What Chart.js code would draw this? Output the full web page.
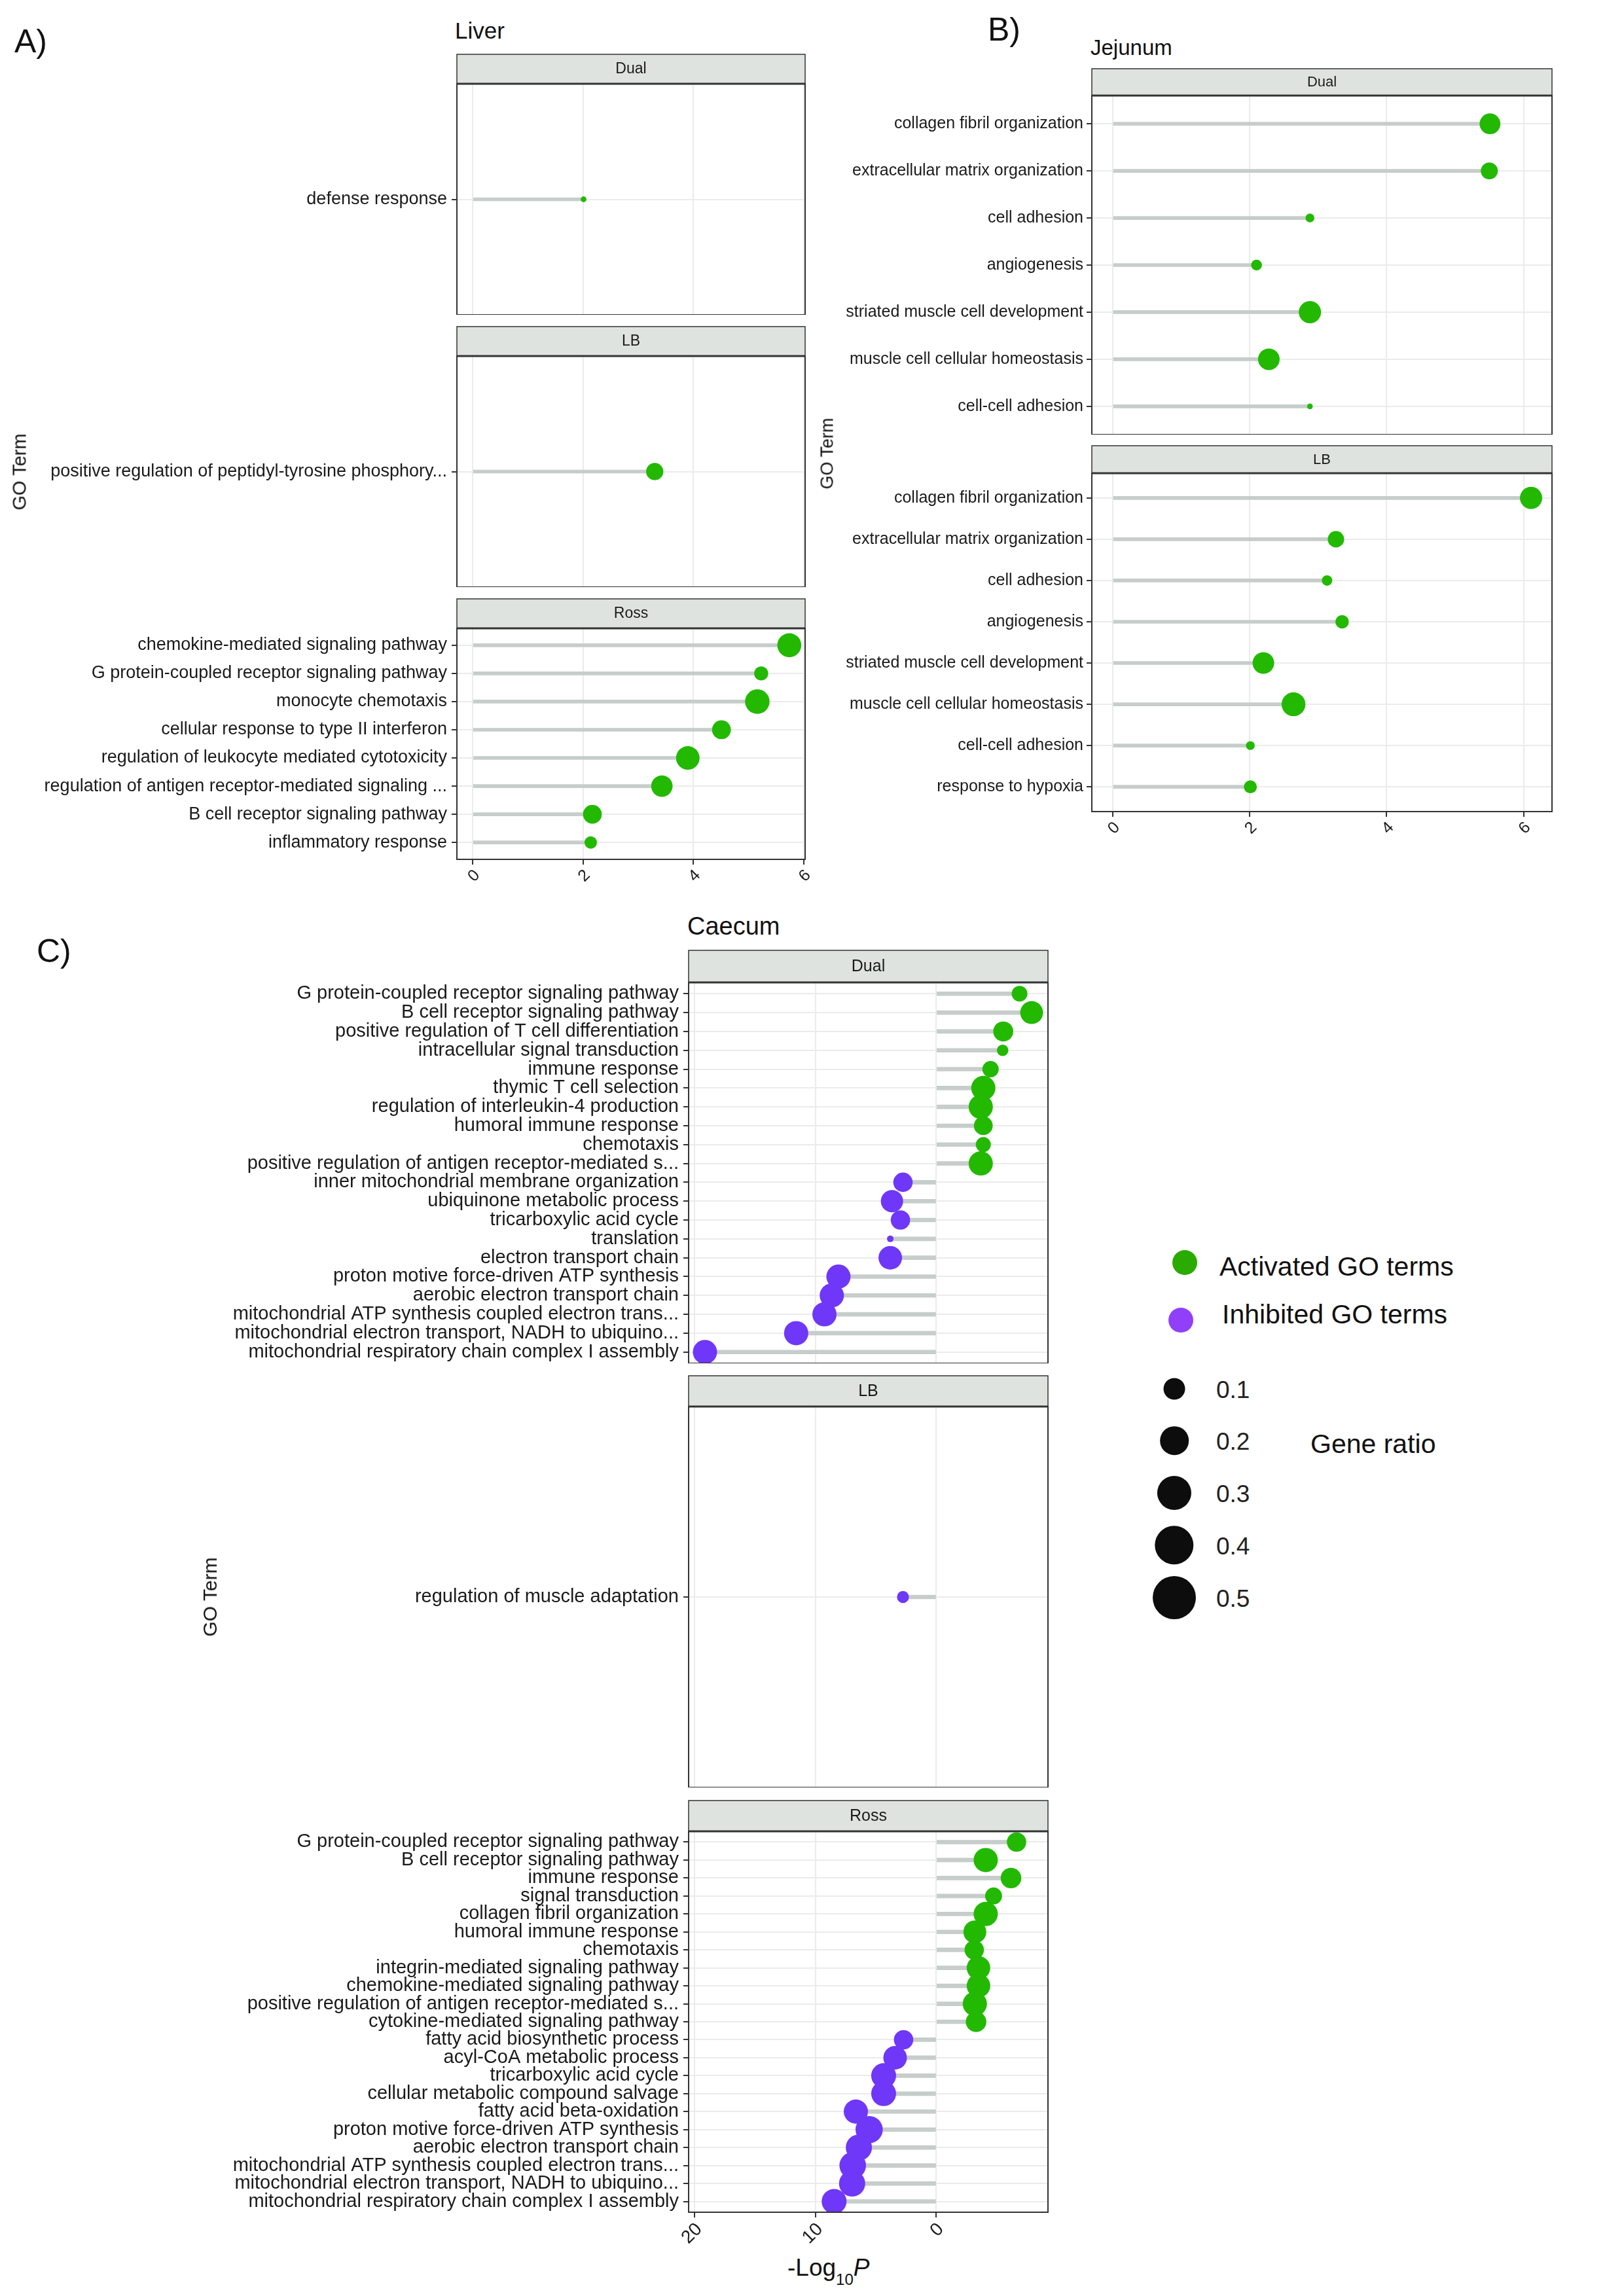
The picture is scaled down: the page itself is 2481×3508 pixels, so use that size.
<!DOCTYPE html>
<html lang="en">
<head>
<meta charset="UTF-8">
<title>GO terms - Liver, Jejunum, Caecum</title>
<script src="https://cdn.jsdelivr.net/npm/chart.js"></script>
<style>
  body { margin: 0; background: #fff; font-family: "Liberation Sans", Arial, sans-serif; }
  #page { position: relative; width: 2481px; height: 3508px; overflow: hidden; background: #fff; }
  canvas { position: absolute; }
  .txt { position: absolute; line-height: 1; white-space: nowrap; color: #111; z-index: 2; }
  .rot { position: absolute; line-height: 1; white-space: nowrap; color: #111; z-index: 2;
         transform: translate(-50%, -50%) rotate(-90deg); }
  .dot { position: absolute; border-radius: 50%; transform: translate(-50%, -50%); }
</style>
</head>
<body>
<div id="page">
  <div class="txt" style="left:22px; top:38px; font-size:50px;">A)</div>
  <div class="txt" style="left:1509px; top:20px; font-size:50px;">B)</div>
  <div class="txt" style="left:56px; top:1428px; font-size:50px;">C)</div>
  <div class="txt" style="left:695px; top:29px; font-size:35px;">Liver</div>
  <div class="txt" style="left:1666px; top:56px; font-size:33px;">Jejunum</div>
  <div class="txt" style="left:1050px; top:1396px; font-size:38px;">Caecum</div>
  <div class="rot" style="left:30px; top:721px; font-size:29px;">GO Term</div>
  <div class="rot" style="left:1264px; top:693px; font-size:27px;">GO Term</div>
  <div class="rot" style="left:321px; top:2440px; font-size:30px;">GO Term</div>
  <div class="txt" style="left:1203px; top:3446px; font-size:37px;">-Log<span style="font-size:24px; position:relative; top:14px;">10</span><i>P</i></div>

  <div class="txt" style="left:1863px; top:1915px; font-size:41px;">Activated GO terms</div>
  <div class="txt" style="left:1867px; top:1988px; font-size:41px;">Inhibited GO terms</div>
  <div class="txt" style="left:2002px; top:2186px; font-size:41px;">Gene ratio</div>
</div>

<script>
  // -Log10 P per GO term, top row first (negative = inhibited), and gene ratio
  const liverDualTerms = ['defense response'];
  const liverDualLogP = [2.01];
  const liverDualRatio = [0.023];

  const liverLBTerms = ['positive regulation of peptidyl-tyrosine phosphory...'];
  const liverLBLogP = [3.30];
  const liverLBRatio = [0.206];

  const liverRossTerms = [
    'chemokine-mediated signaling pathway',
    'G protein-coupled receptor signaling pathway',
    'monocyte chemotaxis',
    'cellular response to type II interferon',
    'regulation of leukocyte mediated cytotoxicity',
    'regulation of antigen receptor-mediated signaling ...',
    'B cell receptor signaling pathway',
    'inflammatory response'
  ];
  const liverRossLogP = [5.74, 5.23, 5.16, 4.51, 3.90, 3.43, 2.17, 2.14];
  const liverRossRatio = [0.40, 0.137, 0.418, 0.245, 0.385, 0.318, 0.245, 0.107];

  const jejunumDualTerms = [
    'collagen fibril organization',
    'extracellular matrix organization',
    'cell adhesion',
    'angiogenesis',
    'striated muscle cell development',
    'muscle cell cellular homeostasis',
    'cell-cell adhesion'
  ];
  const jejunumDualLogP = [5.51, 5.50, 2.88, 2.10, 2.88, 2.28, 2.88];
  const jejunumDualRatio = [0.30, 0.20, 0.054, 0.082, 0.344, 0.324, 0.0225];

  const jejunumLBTerms = [
    'collagen fibril organization',
    'extracellular matrix organization',
    'cell adhesion',
    'angiogenesis',
    'striated muscle cell development',
    'muscle cell cellular homeostasis',
    'cell-cell adhesion',
    'response to hypoxia'
  ];
  const jejunumLBLogP = [6.11, 3.26, 3.13, 3.35, 2.20, 2.64, 2.01, 2.01];
  const jejunumLBRatio = [0.344, 0.186, 0.076, 0.126, 0.324, 0.394, 0.054, 0.117];

  const caecumDualTerms = [
    'G protein-coupled receptor signaling pathway',
    'B cell receptor signaling pathway',
    'positive regulation of T cell differentiation',
    'intracellular signal transduction',
    'immune response',
    'thymic T cell selection',
    'regulation of interleukin-4 production',
    'humoral immune response',
    'chemotaxis',
    'positive regulation of antigen receptor-mediated s...',
    'inner mitochondrial membrane organization',
    'ubiquinone metabolic process',
    'tricarboxylic acid cycle',
    'translation',
    'electron transport chain',
    'proton motive force-driven ATP synthesis',
    'aerobic electron transport chain',
    'mitochondrial ATP synthesis coupled electron trans...',
    'mitochondrial electron transport, NADH to ubiquino...',
    'mitochondrial respiratory chain complex I assembly'
  ];
  const caecumDualLogP = [6.89, 7.89, 5.54, 5.49, 4.49, 3.89, 3.68, 3.89, 3.89, 3.68,
                          -2.76, -3.67, -2.97, -3.81, -3.81, -8.10, -8.65, -9.26, -11.6, -19.15];
  const caecumDualRatio = [0.171, 0.364, 0.277, 0.092, 0.186, 0.407, 0.407, 0.245, 0.157, 0.407,
                           0.26, 0.344, 0.26, 0.03, 0.385, 0.407, 0.407, 0.407, 0.407, 0.407];

  const caecumLBTerms = ['regulation of muscle adaptation'];
  const caecumLBLogP = [-2.76];
  const caecumLBRatio = [0.10];

  const caecumRossTerms = [
    'G protein-coupled receptor signaling pathway',
    'B cell receptor signaling pathway',
    'immune response',
    'signal transduction',
    'collagen fibril organization',
    'humoral immune response',
    'chemotaxis',
    'integrin-mediated signaling pathway',
    'chemokine-mediated signaling pathway',
    'positive regulation of antigen receptor-mediated s...',
    'cytokine-mediated signaling pathway',
    'fatty acid biosynthetic process',
    'acyl-CoA metabolic process',
    'tricarboxylic acid cycle',
    'cellular metabolic compound salvage',
    'fatty acid beta-oxidation',
    'proton motive force-driven ATP synthesis',
    'aerobic electron transport chain',
    'mitochondrial ATP synthesis coupled electron trans...',
    'mitochondrial electron transport, NADH to ubiquino...',
    'mitochondrial respiratory chain complex I assembly'
  ];
  const caecumRossLogP = [6.64, 4.09, 6.18, 4.74, 4.09, 3.19, 3.14, 3.49, 3.49, 3.19, 3.29,
                          -2.71, -3.41, -4.36, -4.36, -6.66, -5.56, -6.41, -6.92, -6.97, -8.46];
  const caecumRossRatio = [0.26, 0.407, 0.293, 0.2, 0.407, 0.364, 0.26, 0.385, 0.385, 0.407, 0.293,
                           0.26, 0.385, 0.43, 0.43, 0.407, 0.514, 0.476, 0.49, 0.476, 0.43];

  const liverTicks = [0, 2, 4, 6];
  const jejunumTicks = [0, 2, 4, 6];
  const caecumTicks = [-20, -10, 0];
  const legendRatios = [0.1, 0.2, 0.3, 0.4, 0.5];

  const GREEN = '#22b900';
  const PURPLE = '#6f37f7';
  const STICK = '#c6cdcb';
  const FONT = '"Liberation Sans", Arial, sans-serif';
  const RIGHT_PAD = 22; // room for the last rotated tick label

  Chart.defaults.font.family = FONT;
  const page = document.getElementById('page');

  // ggplot style 5% expansion of the shared x range
  function xRange(arrs) {
    const all = [].concat(...arrs);
    const lo = Math.min(0, ...all), hi = Math.max(0, ...all);
    const pad = (hi - lo) * 0.05;
    return [lo - pad, hi + pad];
  }

  const stripPlugin = {
    id: 'strip',
    afterDraw(chart, args, o) {
      const { ctx, chartArea: a } = chart;
      const w = a.right - a.left;
      ctx.save();
      ctx.fillStyle = '#dfe3e0';
      ctx.fillRect(a.left, 1, w, a.top - 1);
      ctx.strokeStyle = '#333';
      ctx.lineWidth = 1.5;
      ctx.strokeRect(a.left, 1, w, a.top - 1);
      ctx.fillStyle = '#1a1a1a';
      ctx.font = o.size + 'px ' + FONT;
      ctx.textAlign = 'center';
      ctx.textBaseline = 'middle';
      ctx.fillText(o.label, a.left + w / 2, a.top / 2 + 1);
      ctx.lineWidth = 2;
      ctx.strokeRect(a.left, a.top, w, a.bottom - a.top);
      ctx.lineWidth = 3;
      ctx.beginPath();
      ctx.moveTo(a.left, a.top);
      ctx.lineTo(a.right, a.top);
      ctx.stroke();
      ctx.restore();
    }
  };

  function facet(c) {
    const n = c.terms.length;
    const canvas = document.createElement('canvas');
    canvas.width = c.width + RIGHT_PAD;
    canvas.height = c.height;
    canvas.style.left = c.left + 'px';
    canvas.style.top = c.top + 'px';
    page.appendChild(canvas);

    new Chart(canvas, {
      type: 'bar',
      data: {
        datasets: [
          {
            type: 'scatter',
            data: c.logP.map((v, i) => ({ x: v, y: i })),
            pointRadius: c.ratio.map(r => 29 * Math.sqrt(r)),
            pointHoverRadius: c.ratio.map(r => 29 * Math.sqrt(r)),
            pointBackgroundColor: c.logP.map(v => v < 0 ? PURPLE : GREEN),
            pointBorderWidth: 0,
            clip: 0,
            order: 1
          },
          {
            type: 'bar',
            data: c.logP.map((v, i) => ({ x: [0, v], y: i })),
            backgroundColor: STICK,
            barThickness: c.stick,
            clip: 0,
            order: 2
          }
        ]
      },
      options: {
        indexAxis: 'y',
        responsive: false,
        animation: false,
        events: [],
        layout: { autoPadding: false, padding: { top: c.stripH, right: 2 + RIGHT_PAD, left: 0, bottom: 0 } },
        plugins: {
          legend: { display: false },
          tooltip: { enabled: false },
          strip: { label: c.strip, size: c.stripFont }
        },
        scales: {
          x: {
            type: 'linear',
            position: 'bottom',
            min: c.range[0],
            max: c.range[1],
            offset: false,
            afterBuildTicks: s => { s.ticks = c.ticks.map(v => ({ value: v })); },
            afterFit: s => { s.height = c.xH; s.paddingLeft = 0; s.paddingRight = 0; },
            border: { display: false },
            grid: {
              color: '#ebebeb', lineWidth: 2, offset: false,
              drawTicks: c.xH > 0, tickColor: '#333', tickWidth: 2, tickLength: 8
            },
            ticks: {
              display: c.xH > 0,
              autoSkip: false,
              minRotation: 45,
              maxRotation: 45,
              padding: 2,
              labelOffset: 7,
              color: '#1a1a1a',
              font: { size: c.xFont },
              callback: v => Math.abs(v)
            }
          },
          y: {
            type: 'linear',
            position: 'left',
            reverse: true,
            min: -0.6,
            max: n - 0.4,
            offset: false,
            afterBuildTicks: s => { s.ticks = c.terms.map((t, i) => ({ value: i })); },
            afterFit: s => { s.width = c.yW; s.paddingTop = 0; s.paddingBottom = 0; },
            border: { display: false },
            grid: {
              color: '#ebebeb', lineWidth: 2, offset: false,
              drawTicks: true, tickColor: '#333', tickWidth: 2, tickLength: 8
            },
            ticks: {
              autoSkip: false,
              padding: c.yPad,
              color: '#1a1a1a',
              font: { size: c.yFont },
              callback: v => c.terms[v]
            }
          }
        }
      },
      plugins: [stripPlugin]
    });
  }

  const liverRange = xRange([liverDualLogP, liverLBLogP, liverRossLogP]);
  const jejunumRange = xRange([jejunumDualLogP, jejunumLBLogP]);
  const caecumRange = xRange([caecumDualLogP, caecumLBLogP, caecumRossLogP]);

  // A) Liver
  const liverBase = { left: 0, width: 1232, yW: 698, yFont: 27, yPad: 7, xFont: 25, stick: 5,
                      stripH: 46, stripFont: 23, range: liverRange, ticks: liverTicks };
  facet({ ...liverBase, top: 82, height: 399, xH: 0, strip: 'Dual',
          terms: liverDualTerms, logP: liverDualLogP, ratio: liverDualRatio });
  facet({ ...liverBase, top: 498, height: 399, xH: 0, strip: 'LB',
          terms: liverLBTerms, logP: liverLBLogP, ratio: liverLBRatio });
  facet({ ...liverBase, top: 914, height: 444, xH: 45, strip: 'Ross',
          terms: liverRossTerms, logP: liverRossLogP, ratio: liverRossRatio });

  // B) Jejunum
  const jejBase = { left: 1240, width: 1133, yW: 428, yFont: 25, yPad: 5, xFont: 25, stick: 5,
                    range: jejunumRange, ticks: jejunumTicks, stripFont: 22 };
  facet({ ...jejBase, top: 104, stripH: 42, height: 560, xH: 0, strip: 'Dual',
          terms: jejunumDualTerms, logP: jejunumDualLogP, ratio: jejunumDualRatio });
  facet({ ...jejBase, top: 680, stripH: 43, height: 600, xH: 40, strip: 'LB',
          terms: jejunumLBTerms, logP: jejunumLBLogP, ratio: jejunumLBRatio });

  // C) Caecum
  const caeBase = { left: 200, width: 1403, yW: 852, yFont: 29, yPad: 7, xFont: 28, stick: 6,
                    range: caecumRange, ticks: caecumTicks, stripFont: 25 };
  facet({ ...caeBase, top: 1451, stripH: 50, height: 632, xH: 0, strip: 'Dual',
          terms: caecumDualTerms, logP: caecumDualLogP, ratio: caecumDualRatio });
  facet({ ...caeBase, top: 2101, stripH: 48, height: 630, xH: 0, strip: 'LB',
          terms: caecumLBTerms, logP: caecumLBLogP, ratio: caecumLBRatio });
  facet({ ...caeBase, top: 2750, stripH: 48, height: 680, xH: 50, strip: 'Ross',
          terms: caecumRossTerms, logP: caecumRossLogP, ratio: caecumRossRatio });

  // legend (drawn as a separate key, as in the figure)
  function addDot(cx, cy, d, color) {
    const el = document.createElement('div');
    el.className = 'dot';
    el.style.left = cx + 'px';
    el.style.top = cy + 'px';
    el.style.width = d + 'px';
    el.style.height = d + 'px';
    el.style.background = color;
    page.appendChild(el);
  }
  addDot(1810, 1929, 38, '#2aab00');
  addDot(1804, 2017, 38, '#9040f8');
  legendRatios.forEach((r, i) => {
    const cy = 2121.5 + i * 79.8;
    addDot(1794, cy, Math.sqrt(272 + 8170 * r), '#0d0d0d');
    const t = document.createElement('div');
    t.className = 'txt';
    t.style.cssText = 'left:1858px; font-size:37px; color:#222; top:' + (cy - 17) + 'px;';
    t.textContent = r.toFixed(1);
    page.appendChild(t);
  });
</script>
</body>
</html>
